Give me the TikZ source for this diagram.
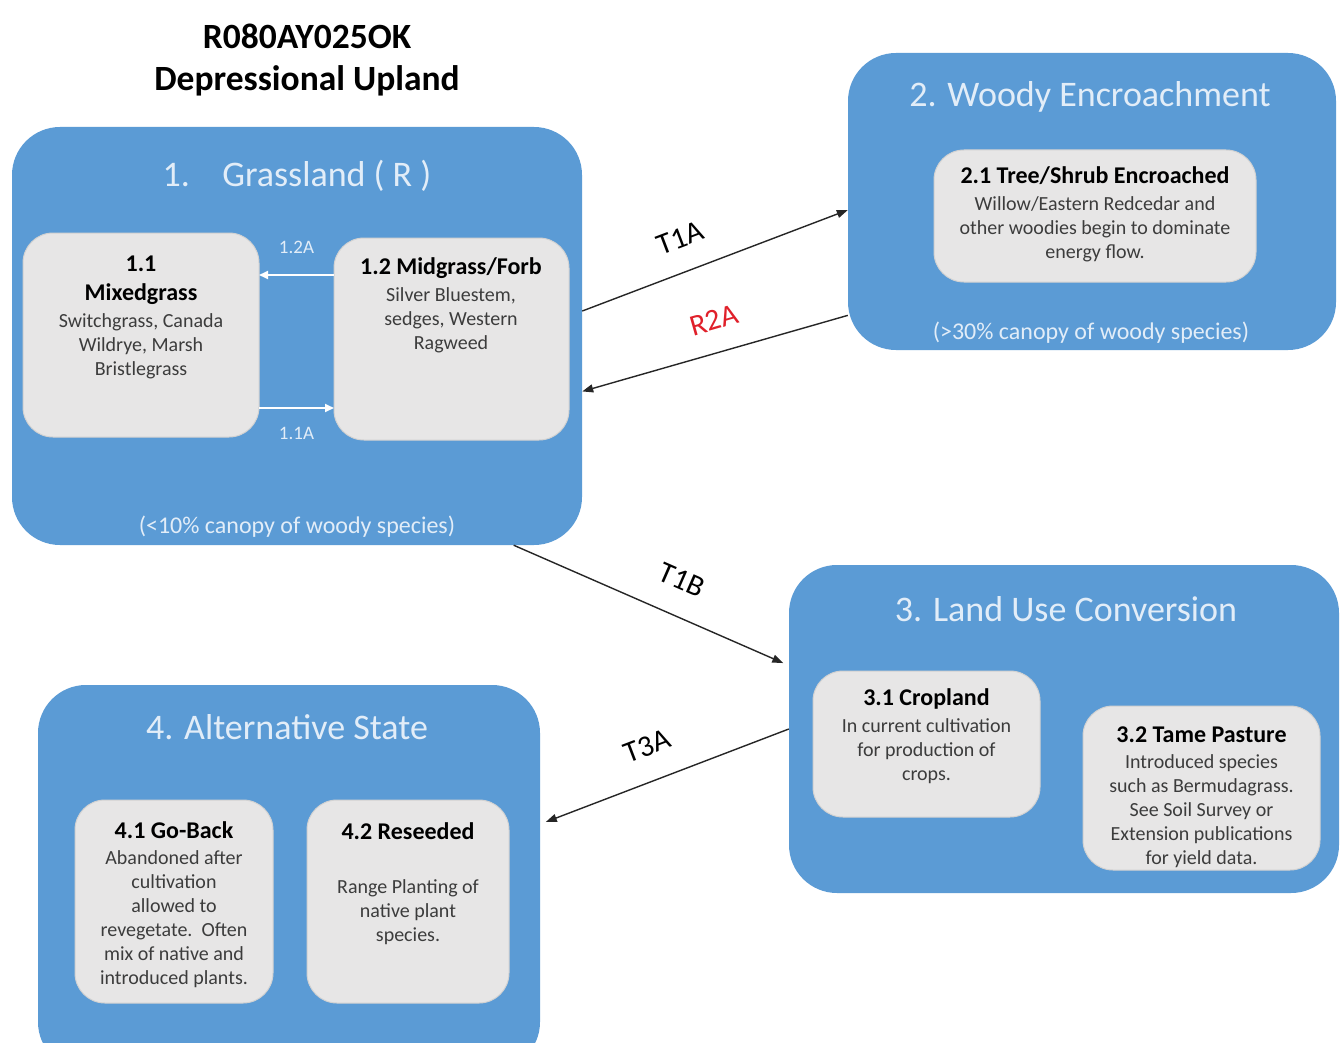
\documentclass[tikz,border=0pt]{standalone}
\usepackage{fontspec}
\setmainfont{Carlito}
\usetikzlibrary{arrows.meta,calc}
\definecolor{stblue}{HTML}{5B9BD5}
\definecolor{boxgray}{HTML}{E7E6E6}
\definecolor{boxedge}{HTML}{D2D2D2}
\definecolor{ttl}{HTML}{E2EDF8}
\definecolor{bodytxt}{HTML}{3C3C3C}
\definecolor{redlbl}{HTML}{E0202A}
\newcommand{\hd}{\fontsize{24}{24}\selectfont\bfseries\color{black}}
\tikzset{
  statebox/.style={fill=stblue, rounded corners=48pt, inner sep=0pt},
  subbox/.style={fill=boxgray, draw=boxedge, line width=1pt, rounded corners=30pt, inner sep=0pt, outer sep=0pt},
  sttitle/.style={text=ttl, font=\fontsize{36}{40}\selectfont, anchor=base, inner sep=0pt},
  foot/.style={text=ttl, font=\fontsize{24}{26}\selectfont, anchor=base, inner sep=0pt},
  boxtext/.style={text=bodytxt, font=\fontsize{20}{24}\selectfont, align=center, anchor=north, inner sep=0pt},
  trans/.style={draw=black!85, line width=1.4pt, -{Triangle[length=11pt,width=8pt]}},
  inner/.style={draw=white, line width=2pt, -{Triangle[length=9pt,width=8pt]}},
  tlabel/.style={font=\fontsize{30}{32}\selectfont, inner sep=0pt, sloped},
  ilabel/.style={font=\fontsize{19}{20}\selectfont, text=ttl, inner sep=0pt},
}
\begin{document}
\begin{tikzpicture}[x=1pt, y=-1pt]
\clip (0,0) rectangle (1340,1043);
\useasboundingbox (0,0) rectangle (1340,1043);
\fill[white] (0,0) rectangle (1340,1043);

% heading
\node[anchor=north, inner sep=0pt, align=center, font=\fontsize{35.5}{42}\selectfont\bfseries] (head) at (307,23.5) {R080AY025OK\\Depressional Upland};

% state boxes
\node[statebox, minimum width=570pt, minimum height=418pt] (s1) at (297,336) {};
\node[statebox, minimum width=488pt, minimum height=297pt] (s2) at (1092,201.5) {};
\node[statebox, minimum width=550pt, minimum height=328pt] (s3) at (1064,729) {};
\node[statebox, minimum width=502pt, minimum height=385pt] (s4) at (289,877.5) {};

% state titles
\node[sttitle] (s1t) at (297,186) {1.\hspace{0.9em}Grassland ( R )};
\node[sttitle] (s2t) at (1090,107) {2. Woody Encroachment};
\node[sttitle] (s3t) at (1066,621) {3. Land Use Conversion};
\node[sttitle] (s4t) at (287,739) {4. Alternative State};

% footnotes
\node[foot] (s1f) at (297,533) {(<10\% canopy of woody species)};
\node[foot] (s2f) at (1091,339) {(>30\% canopy of woody species)};

% community boxes
\node[subbox, minimum width=236pt, minimum height=204pt] (b11) at (141,335) {};
\node[subbox, minimum width=235pt, minimum height=202pt] (b12) at (451.5,339) {};
\node[subbox, minimum width=322pt, minimum height=132pt] (b21) at (1095,216) {};
\node[subbox, minimum width=227pt, minimum height=146pt] (b31) at (926.5,744) {};
\node[subbox, minimum width=237pt, minimum height=164pt] (b32) at (1201.5,788) {};
\node[subbox, minimum width=198pt, minimum height=203pt] (b41) at (174,901.5) {};
\node[subbox, minimum width=202pt, minimum height=203pt] (b42) at (408,901.5) {};

% community texts
\node[boxtext] (t11) at (141,256) {{\hd 1.1}\\[5pt]{\hd Mixedgrass}\\[3pt]Switchgrass, Canada\\Wildrye, Marsh\\Bristlegrass};
\node[boxtext] (t12) at (451,257.5) {{\hd 1.2 Midgrass/Forb}\\[3pt]Silver Bluestem,\\sedges, Western\\Ragweed};
\node[boxtext] (t21) at (1095,166.5) {{\hd 2.1 Tree/Shrub Encroached}\\[3pt]Willow/Eastern Redcedar and\\other woodies begin to dominate\\energy flow.};
\node[boxtext] (t31) at (926.5,688.5) {{\hd 3.1 Cropland}\\[3pt]In current cultivation\\for production of\\crops.};
\node[boxtext] (t32) at (1201.5,726.5) {{\hd 3.2 Tame Pasture}\\[2pt]Introduced species\\such as Bermudagrass.\\See Soil Survey or\\Extension publications\\for yield data.};
\node[boxtext] (t41) at (174,821.5) {{\hd 4.1 Go-Back}\\[2pt]Abandoned after\\cultivation\\allowed to\\revegetate.\ \ Often\\mix of native and\\introduced plants.};
\node[boxtext] (t42) at (408,822.5) {{\hd 4.2 Reseeded}\\[30pt]Range Planting of\\native plant\\species.};

% within-state transitions (horizontal)
\draw[inner] ($(b12.west)+(0,-64)$) -- node[ilabel, above=20pt] (l12a) {1.2A} ($(b11.east)+(0,-60)$);
\draw[inner] ($(b11.east)+(0,73)$) -- node[ilabel, below=18pt] (l11a) {1.1A} ($(b12.west)+(0,69)$);

% state transitions
\draw[trans] (s1.5.2) -- node[tlabel, pos=0.415, above=23pt] (lt1a) {T1A} (s2.182.4);
\draw[trans] (s2.205.5) -- node[tlabel, pos=0.47, above=22pt, text=redlbl] (lr2a) {R2A} (s1.-11.3);
\draw[trans, shorten >=6pt] (s1.-44.7) -- node[tlabel, pos=0.56, above=25pt] (lt1b) {T1B} (s3.167.5);
\draw[trans, shorten >=6pt] (s3.180.6) -- node[tlabel, pos=0.52, above=24pt] (lt3a) {T3A} (s4.12.9);
\end{tikzpicture}
\end{document}
